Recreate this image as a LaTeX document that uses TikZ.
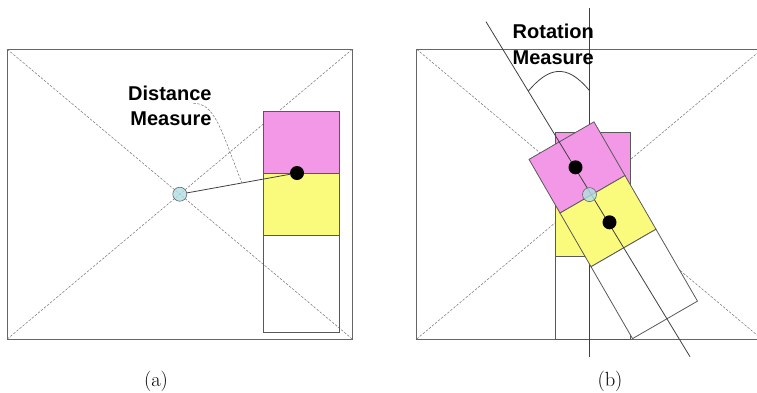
\documentclass[tikz,border=0pt]{standalone}
\usepackage{fontspec}
\newfontfamily\lsans{Liberation Sans}
\usetikzlibrary{calc}
\definecolor{pinkc}{RGB}{242,152,230}
\definecolor{yellc}{RGB}{250,250,125}
\definecolor{hubc}{RGB}{176,222,228}
\begin{document}
\begin{tikzpicture}[x=1pt,y=-1pt,
  frame/.style={draw=black!60, line width=0.8pt},
  diag/.style={draw=black!55, line width=0.5pt, dash pattern=on 2.5pt off 1.5pt},
  box/.style={draw=black!65, line width=0.8pt},
  link/.style={draw=black!75, line width=0.8pt},
  hub/.style={circle, draw=black!60, line width=0.6pt, fill=hubc, fill opacity=0.8, draw opacity=1, minimum size=14pt, inner sep=0pt},
  blackdot/.style={circle, fill=black, minimum size=14pt, inner sep=0pt},
  measlabel/.style={font=\fontsize{20}{25.3}\lsans\bfseries, align=right, inner sep=0pt},
  capt/.style={font=\fontsize{20.5}{24}\selectfont, inner sep=0pt}]
\clip (0,0) rectangle (757,392);

% ---------- panel (a) ----------
\coordinate (aTL) at (7.3,49.3);
\coordinate (aTR) at (352.3,49.3);
\coordinate (aBL) at (7.3,339);
\coordinate (aBR) at (352.3,339);
\draw[frame] (aTL) rectangle (aBR);
\draw[diag] (aTL) -- (aBR);
\draw[diag] (aTR) -- (aBL);
\draw[box, fill=pinkc] (263,111) rectangle (339,173);
\draw[box, fill=yellc] (263,173) rectangle (339,235);
\draw[box] (263,235) rectangle (339,332);
\node[hub] (cA) at (179.8,194.2) {};
\node[blackdot] (dA) at (297,173) {};
\draw[link] (cA) -- (dA);
\node[measlabel, anchor=east] (tA) at (211.7,106) {Distance\\Measure};
\coordinate (sA) at (193.3,103.3);
\coordinate (mA) at ($(cA)!0.53!(dA)$);
\draw[diag] (sA) .. controls (215,103) and (221,130) .. (mA);
\node[capt, anchor=base] (capA) at (156,386) {(a)};

% ---------- panel (b) ----------
\coordinate (bTL) at (416.7,49.3);
\coordinate (bTR) at (761.7,49.3);
\coordinate (bBL) at (416.7,339);
\coordinate (bBR) at (761.7,339);
\draw[frame] (bTL) rectangle (bBR);
\draw[diag] (bTL) -- (bBR);
\draw[diag] (bTR) -- (bBL);
% original position of the block
\draw[box, fill=pinkc] (555,132.3) rectangle (630,194.3);
\draw[box, fill=yellc] (555,194.3) rectangle (630,256.3);
\draw[box] (555,256.3) rectangle (630,339);
% vertical reference line
\coordinate (vT) at (589.5,8.3);
\coordinate (vB) at (589.5,357);
\draw[link] (vT) -- (vB);
% rotated block
\begin{scope}[shift={(592.5,194.3)}, rotate=30]
  \draw[box, fill=pinkc] (-37.5,-62) rectangle (37.5,0);
  \draw[box, fill=yellc] (-37.5,0) rectangle (37.5,62);
  \draw[box, fill=white] (-37.5,62) rectangle (37.5,145);
\end{scope}
% rotated axis
\coordinate (axT) at (486,21.7);
\coordinate (axB) at (690,356.7);
\draw[link] (axT) -- (axB);
\node[blackdot] (d1) at (575.5,167.3) {};
\node[blackdot] (d2) at (609.5,222.3) {};
\node[hub] (cB) at (589.5,194.6) {};
% rotation arc
\coordinate (r1) at ($(axT)!0.2072!(axB)$);
\coordinate (r2) at (589.5,90.7);
\draw[link] (r1) .. controls (548,68) and (566,62) .. (r2);
\node[measlabel, anchor=east] (tB) at (594,44.3) {Rotation\\Measure};
\node[capt, anchor=base] (capB) at (610,386) {(b)};
\end{tikzpicture}
\end{document}
